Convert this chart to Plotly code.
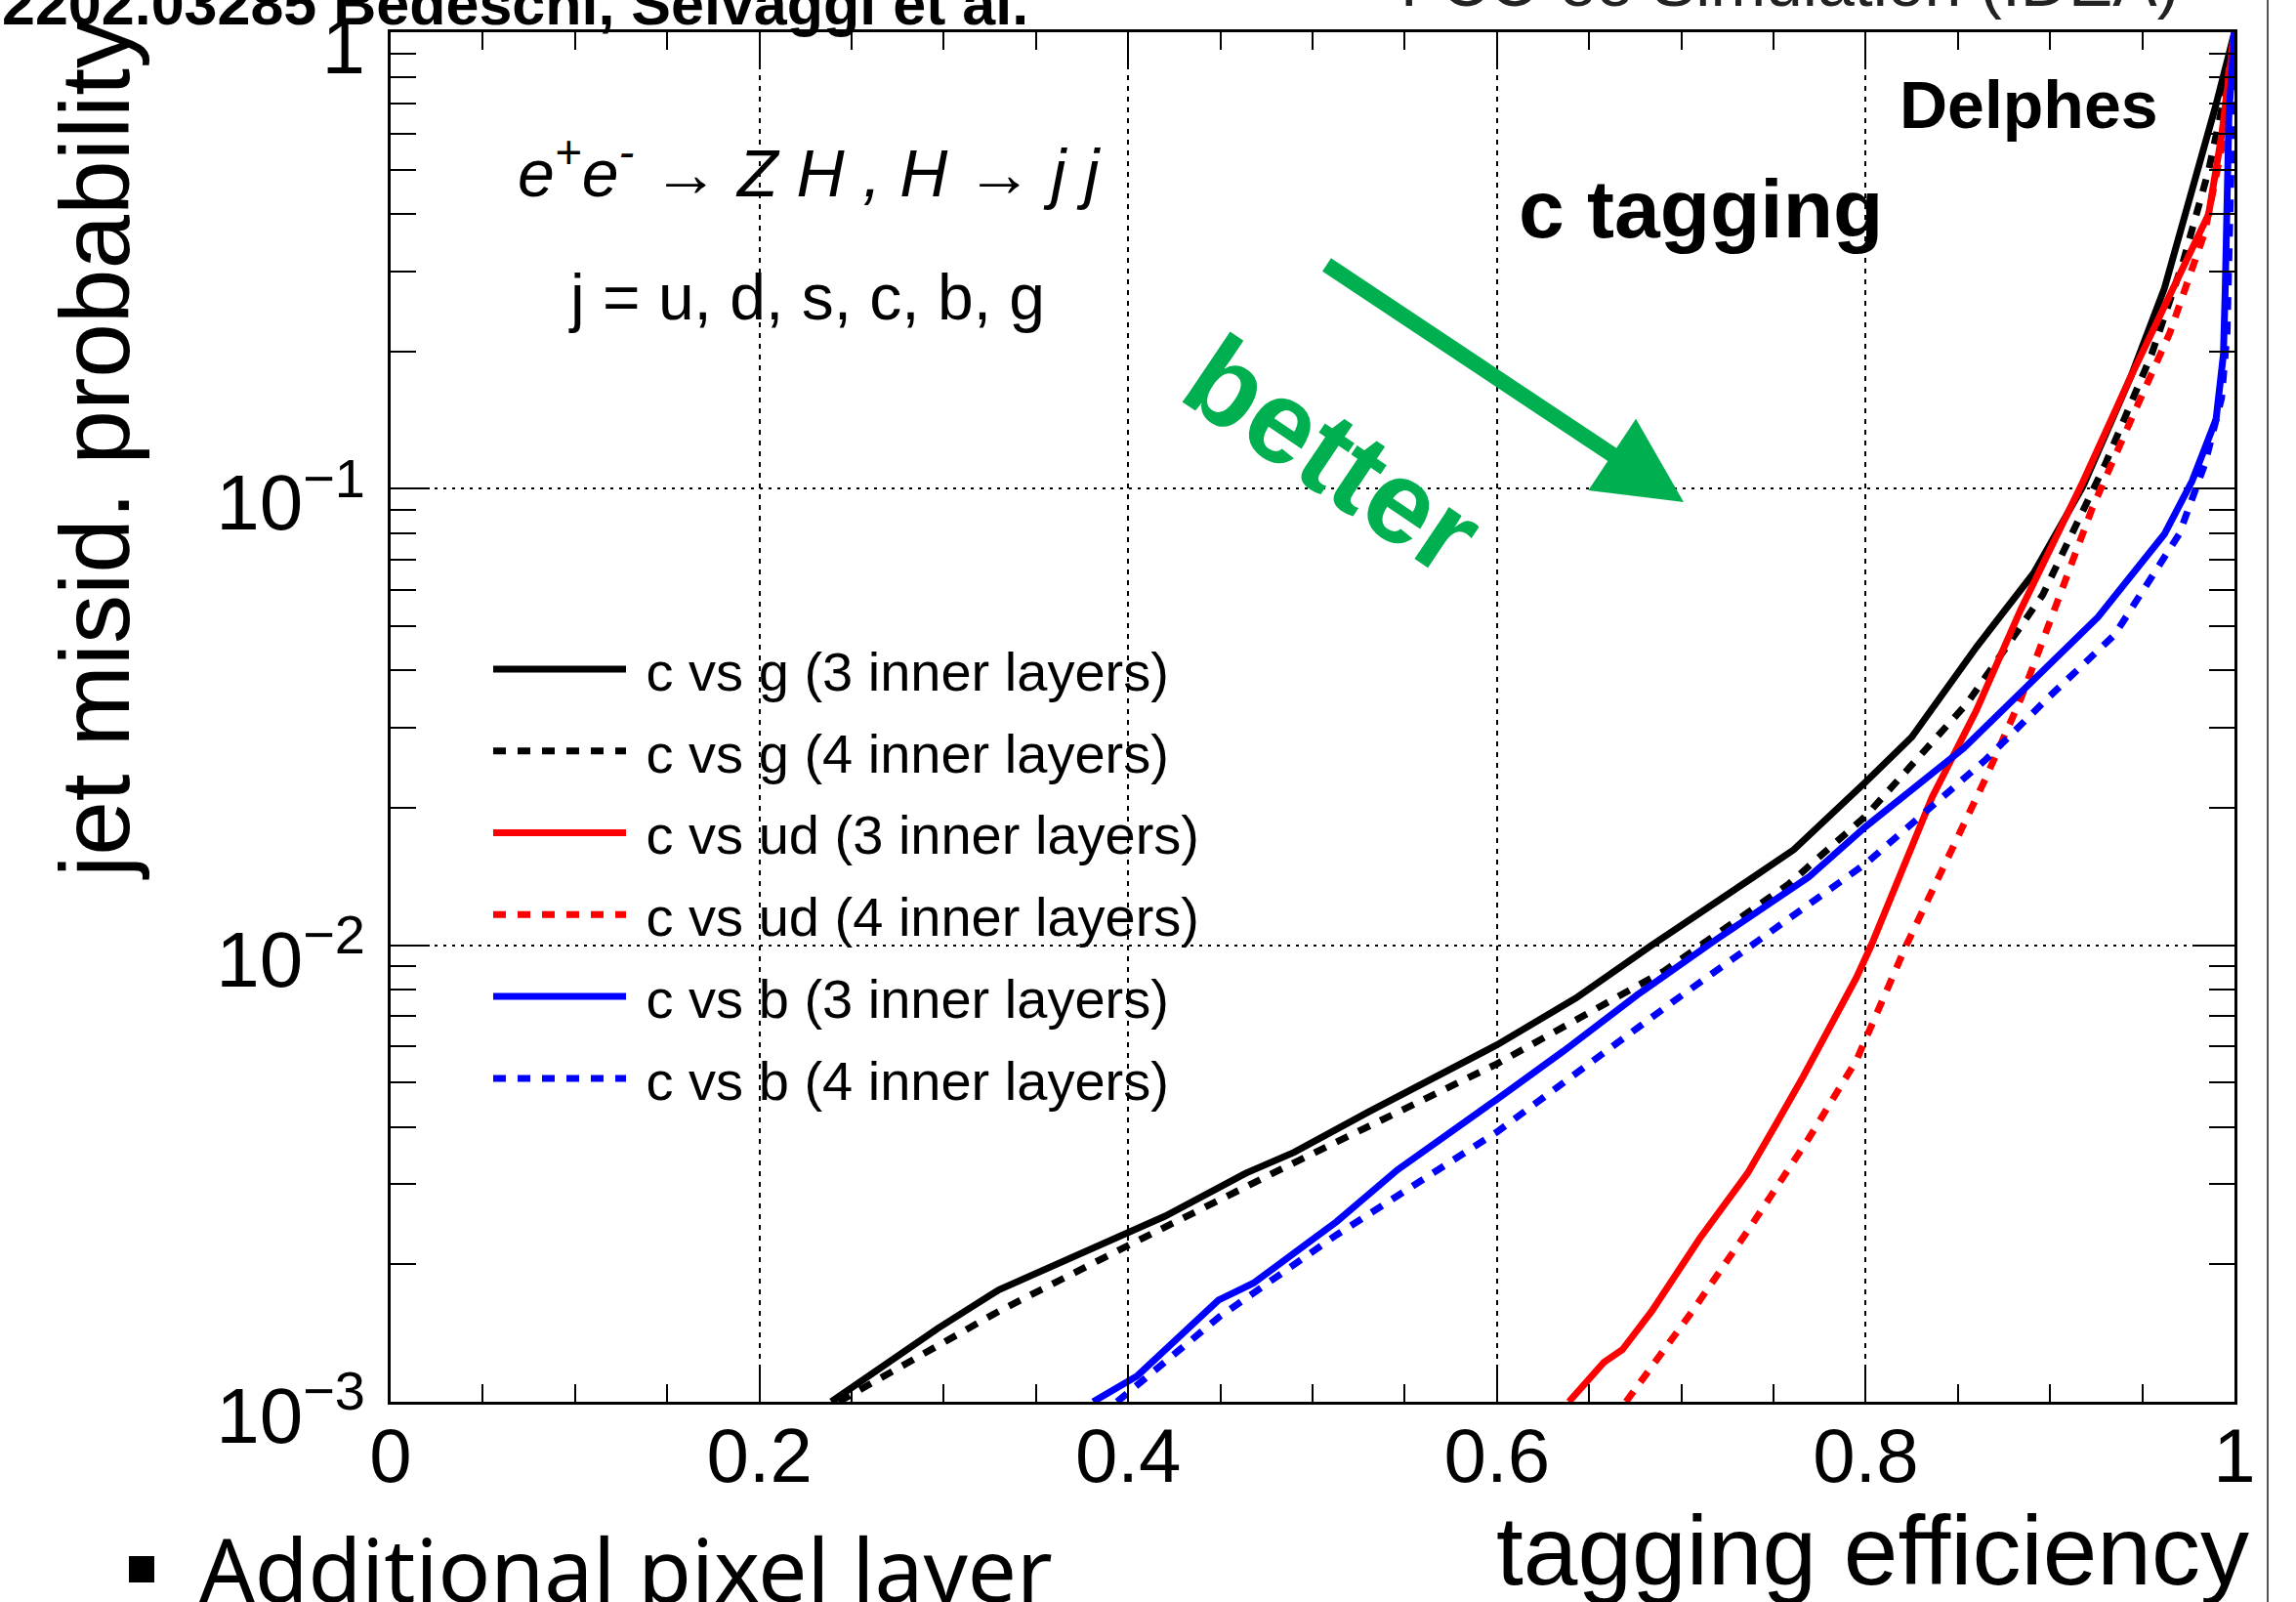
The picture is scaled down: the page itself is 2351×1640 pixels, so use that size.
import plotly.graph_objects as go

# ---- ROC curves: c-jet tagging efficiency vs. background mis-id probability ----
eff_cg3 = [0.239, 0.297, 0.330, 0.400, 0.420, 0.464, 0.490, 0.531, 0.600, 0.643, 0.683, 0.739, 0.761,
           0.800, 0.825, 0.860, 0.891, 0.918, 0.944, 0.962, 0.979, 0.990, 1.0]
mis_cg3 = [1.0e-3, 1.45e-3, 1.76e-3, 2.36e-3, 2.55e-3, 3.17e-3, 3.52e-3, 4.33e-3, 6.05e-3, 7.67e-3, 9.95e-3,
           1.41e-2, 1.62e-2, 2.28e-2, 2.86e-2, 4.5e-2, 6.53e-2, 0.1016, 0.177, 0.275, 0.477, 0.695, 1.0]

eff_cg4 = [0.243, 0.330, 0.400, 0.490, 0.600, 0.691, 0.712, 0.758, 0.800, 0.855, 0.896, 0.930, 0.955,
           0.972, 0.986, 0.995, 1.0]
mis_cg4 = [1.0e-3, 1.58e-3, 2.2e-3, 3.34e-3, 5.5e-3, 8.8e-3, 1.01e-2, 1.36e-2, 1.92e-2, 3.39e-2, 5.86e-2,
           0.1135, 0.197, 0.313, 0.499, 0.74, 1.0]

eff_cud3 = [0.639, 0.658, 0.668, 0.684, 0.710, 0.736, 0.752, 0.766, 0.795, 0.803, 0.836, 0.860, 0.884,
            0.900, 0.918, 0.944, 0.970, 0.986, 0.993, 0.997, 1.0]
mis_cud3 = [1.0e-3, 1.22e-3, 1.3e-3, 1.58e-3, 2.28e-3, 3.17e-3, 4.1e-3, 5.15e-3, 8.5e-3, 1.0e-2, 2.11e-2,
            3.27e-2, 5.43e-2, 7.35e-2, 0.104, 0.177, 0.293, 0.40, 0.594, 0.83, 1.0]

eff_cud4 = [0.670, 0.706, 0.737, 0.769, 0.795, 0.822, 0.865, 0.884, 0.900, 0.923, 0.944, 0.965,
            0.984, 0.993, 0.997, 1.0]
mis_cud4 = [1.0e-3, 1.58e-3, 2.4e-3, 3.77e-3, 5.6e-3, 1.0e-2, 2.32e-2, 3.46e-2, 5.13e-2, 0.091,
            0.142, 0.22, 0.366, 0.557, 0.83, 1.0]

eff_cb3 = [0.381, 0.405, 0.449, 0.468, 0.513, 0.546, 0.600, 0.636, 0.676, 0.719, 0.769, 0.800, 0.853,
           0.900, 0.926, 0.962, 0.977, 0.990, 0.994, 0.995, 0.996, 0.997, 1.0]
mis_cb3 = [1.0e-3, 1.14e-3, 1.67e-3, 1.82e-3, 2.48e-3, 3.22e-3, 4.6e-3, 5.86e-3, 7.78e-3, 1.03e-2, 1.41e-2,
           1.82e-2, 2.7e-2, 4.17e-2, 5.24e-2, 7.96e-2, 0.104, 0.142, 0.197, 0.275, 0.427, 0.664, 1.0]

eff_cb4 = [0.394, 0.449, 0.513, 0.600, 0.695, 0.784, 0.800, 0.865, 0.900, 0.935, 0.970, 0.984, 0.993,
           0.996, 0.998, 1.0]
mis_cb4 = [1.0e-3, 1.53e-3, 2.32e-3, 3.9e-3, 7.5e-3, 1.36e-2, 1.51e-2, 2.55e-2, 3.52e-2, 4.79e-2, 7.96e-2,
           0.1135, 0.158, 0.22, 0.5, 1.0]

series_names = ["c vs g (3 inner layers)", "c vs g (4 inner layers)",
                "c vs ud (3 inner layers)", "c vs ud (4 inner layers)",
                "c vs b (3 inner layers)", "c vs b (4 inner layers)"]

y_tick_vals = [1, 0.1, 0.01, 0.001]
y_tick_text = ["1", "10<sup>\u22121</sup>", "10<sup>\u22122</sup>", "10<sup>\u22123</sup>"]
x_tick_vals = [0, 0.2, 0.4, 0.6, 0.8, 1]
x_tick_text = ["0", "0.2", "0.4", "0.6", "0.8", "1"]

W, H = 2351, 1640
ML, MR, MT, MB = 400, 63, 33, 205
PW, PH = W - ML - MR, H - MT - MB


def px(x):
    return (x - ML) / PW


def py(y):
    return (H - MB - y) / PH


FONT = "Liberation Sans, Arial, Helvetica, sans-serif"
DOTTED = "13px,12px"
NBSP = "\u00a0"

curves = [
    (eff_cg3, mis_cg3, "black", "solid"),
    (eff_cg4, mis_cg4, "black", DOTTED),
    (eff_cud3, mis_cud3, "#ff0000", "solid"),
    (eff_cud4, mis_cud4, "#ff0000", DOTTED),
    (eff_cb3, mis_cb3, "#0000ff", "solid"),
    (eff_cb4, mis_cb4, "#0000ff", DOTTED),
]

fig = go.Figure()
for i, (xs, ys, col, dash) in enumerate(curves):
    fig.add_trace(go.Scatter(
        x=xs, y=ys, mode="lines", name=NBSP + series_names[i], legendgroup=f"g{i}",
        line=dict(color=col, width=7, dash=dash),
    ))

minor_y = [m * 10 ** e for e in (-3, -2, -1) for m in range(2, 10)]

fig.update_layout(
    width=W, height=H, autosize=False,
    margin=dict(l=ML, r=MR, t=MT, b=MB),
    paper_bgcolor="white", plot_bgcolor="white",
    font=dict(family=FONT, color="black"),
    showlegend=True,
    legend=dict(
        x=px(500), y=py(642), xanchor="left", yanchor="top",
        font=dict(size=56, family=FONT, color="black"),
        bgcolor="rgba(0,0,0,0)", borderwidth=0,
        itemwidth=136, tracegroupgap=8, traceorder="grouped",
    ),
    xaxis=dict(
        range=[0, 1], tickvals=x_tick_vals, ticktext=x_tick_text,
        tickfont=dict(size=78, family=FONT),
        ticks="inside", ticklen=38, tickwidth=2, tickcolor="black",
        showline=True, linecolor="black", linewidth=3, mirror="ticks",
        showgrid=True, gridcolor="black", gridwidth=2, griddash="5px,6px",
        zeroline=False, ticklabelstandoff=-15, automargin=False,
        minor=dict(dtick=0.05, ticks="inside", ticklen=18, tickwidth=2, tickcolor="black", showgrid=False),
    ),
    yaxis=dict(
        type="log", range=[-3, 0.0005], tickvals=y_tick_vals, ticktext=y_tick_text,
        tickfont=dict(size=80, family=FONT),
        ticks="inside", ticklen=40, tickwidth=2, tickcolor="black",
        showline=True, linecolor="black", linewidth=3, mirror="ticks",
        showgrid=True, gridcolor="black", gridwidth=2, griddash="3px,6px",
        zeroline=False, ticklabelstandoff=7, ticklabelshift=14, automargin=False,
        minor=dict(tickvals=minor_y, ticks="inside", ticklen=26, tickwidth=2, tickcolor="black", showgrid=False),
    ),
)


def label(text, x, y, size, xanchor="center", yanchor="middle", family=FONT, color="black", angle=0):
    return dict(text=text, x=px(x), y=py(y), xref="paper", yref="paper", showarrow=False,
                xanchor=xanchor, yanchor=yanchor, textangle=angle,
                font=dict(size=size, family=family, color=color))


ann = [
    # axis titles
    label("jet misid. probability", 97, 461, 100, angle=-90),
    label("tagging efficiency", 2305, 1587, 100, xanchor="right"),
    # in-frame labels
    label("<i>e<sup>+</sup>e<sup>-</sup> \u2192 Z H , H \u2192 j j</i>", 828, 172, 68),
    label("j = u, d, s, c, b, g", 826, 304, 66),
    label("<b>c tagging</b>", 1741, 214, 84),
    label("<b>Delphes</b>", 2077, 107, 68),
    label("<b>better</b>", 1365, 465, 120, color="#00b050", angle=34),
    # page text around the figure
    label("<b>2202.03285 Bedeschi, Selvaggi et al.</b>", 0, 4, 61, xanchor="left"),
    label("FCC-ee Simulation (IDEA)", 1432, -18, 68, xanchor="left", color="#222222"),
    label("Additional pixel layer", 202, 1605, 89, xanchor="left", family="Noto Sans, sans-serif"),
]
# "better" direction arrow
ann.append(dict(text="", x=px(1724), y=py(514), ax=1357 - 1724, ay=270 - 514,
                xref="paper", yref="paper", axref="pixel", ayref="pixel",
                showarrow=True, arrowhead=2, arrowsize=1.1, arrowwidth=16, arrowcolor="#00b050"))
fig.update_layout(annotations=ann)

fig.add_shape(type="rect", xref="paper", yref="paper", x0=px(132), x1=px(158), y0=py(1620), y1=py(1593),
              fillcolor="black", line=dict(width=0))
fig.add_shape(type="line", xref="paper", yref="paper", x0=px(2322), x1=px(2322), y0=py(0), y1=py(H),
              line=dict(color="#555555", width=2))

fig.write_html("out.html")
